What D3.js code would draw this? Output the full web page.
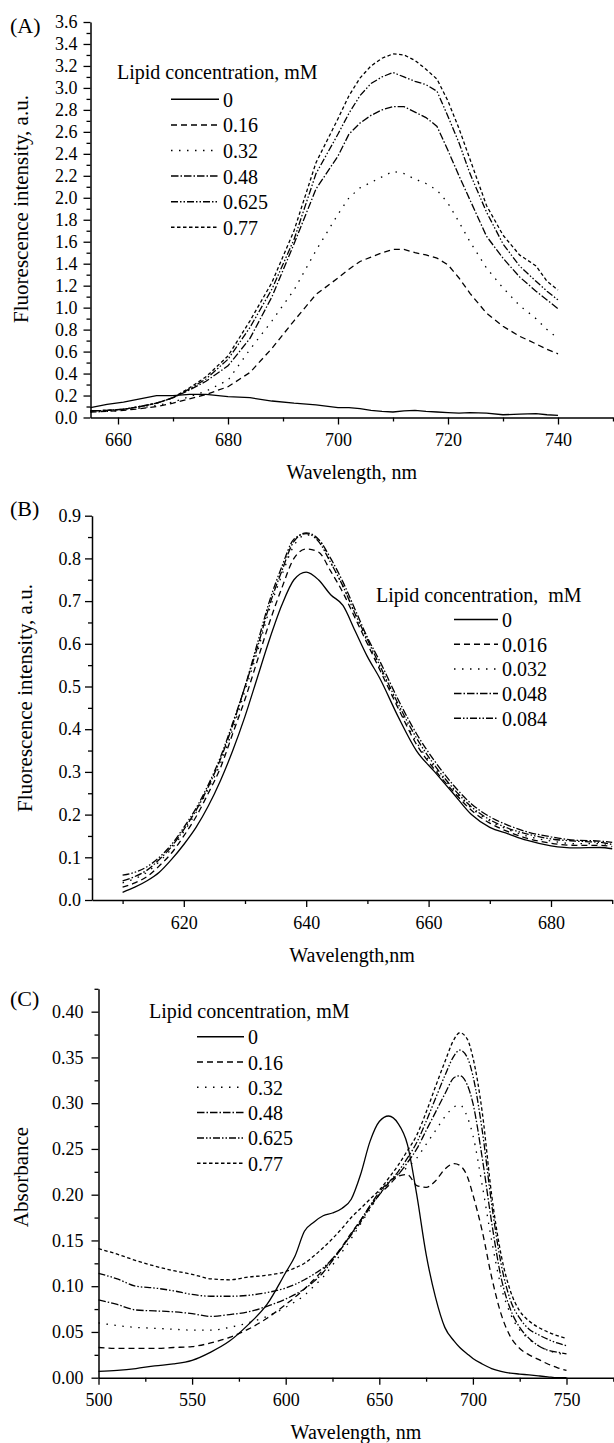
<!DOCTYPE html>
<html><head><meta charset="utf-8">
<script src="https://cdn.jsdelivr.net/npm/d3@7"></script>
<style>
body{margin:0;background:#fff}
svg text{font-family:"Liberation Serif","DejaVu Serif",serif !important;fill:#000}
</style>
</head><body>
<svg id="c" width="614" height="1443" xmlns="http://www.w3.org/2000/svg" font-family="Liberation Serif"></svg>
<script>
// ---------------- DATA ----------------
// Panel A: fluorescence, lipid concentration mM
const legendA = ["0", "0.16", "0.32", "0.48", "0.625", "0.77"];
const wlA = [655,658,661,664,667,670,673,676,680,684,688,692,696,700,702,704,706,708,710,712,714,716,718,720,722,724,727,730,733,736,738,740];
const A_0    = [0.09,0.12,0.14,0.17,0.2,0.2,0.21,0.21,0.19,0.18,0.15,0.13,0.115,0.09,0.09,0.08,0.065,0.055,0.05,0.06,0.065,0.055,0.05,0.045,0.04,0.045,0.04,0.025,0.03,0.035,0.025,0.02];
const A_016  = [0.05,0.055,0.065,0.08,0.1,0.13,0.17,0.21,0.28,0.41,0.63,0.88,1.12,1.27,1.35,1.42,1.46,1.5,1.53,1.53,1.5,1.48,1.45,1.39,1.27,1.13,0.95,0.83,0.74,0.67,0.62,0.58];
const A_032  = [0.05,0.055,0.065,0.085,0.11,0.14,0.19,0.24,0.34,0.62,0.88,1.16,1.52,1.85,2.0,2.09,2.14,2.19,2.24,2.22,2.17,2.13,2.07,1.95,1.78,1.6,1.36,1.18,1.02,0.9,0.8,0.72];
const A_048  = [0.06,0.065,0.075,0.1,0.13,0.18,0.25,0.33,0.47,0.72,1.1,1.58,2.08,2.38,2.58,2.68,2.75,2.8,2.83,2.83,2.78,2.73,2.65,2.43,2.2,1.98,1.65,1.45,1.28,1.15,1.07,0.99];
const A_0625 = [0.06,0.065,0.075,0.1,0.13,0.18,0.26,0.35,0.53,0.82,1.17,1.62,2.22,2.58,2.77,2.93,3.04,3.1,3.14,3.1,3.06,3.03,2.97,2.74,2.5,2.22,1.87,1.58,1.38,1.24,1.15,1.07];
const A_077  = [0.06,0.065,0.075,0.1,0.13,0.18,0.27,0.37,0.56,0.88,1.23,1.7,2.32,2.72,2.93,3.09,3.2,3.27,3.31,3.3,3.25,3.17,3.08,2.88,2.63,2.35,1.93,1.66,1.48,1.38,1.24,1.16];

// Panel B
const legendB = ["0", "0.016", "0.032", "0.048", "0.084"];
const wlB = [610,612,614,616,618,620,622,624,626,628,630,632,634,636,638,640,642,644,646,648,650,652,655,658,661,664,667,670,673,676,680,684,688,690];
const B_0     = [0.018,0.03,0.045,0.065,0.095,0.13,0.17,0.22,0.28,0.35,0.43,0.52,0.61,0.69,0.75,0.768,0.75,0.715,0.69,0.63,0.57,0.52,0.43,0.35,0.3,0.25,0.2,0.17,0.155,0.14,0.127,0.122,0.123,0.12];
const B_0016  = [0.03,0.04,0.055,0.08,0.11,0.15,0.195,0.25,0.31,0.39,0.47,0.56,0.65,0.73,0.8,0.822,0.815,0.77,0.72,0.66,0.6,0.54,0.45,0.365,0.305,0.255,0.21,0.18,0.16,0.145,0.133,0.128,0.128,0.125];
const B_0032  = [0.04,0.05,0.065,0.09,0.12,0.16,0.205,0.26,0.32,0.4,0.49,0.58,0.68,0.76,0.83,0.855,0.845,0.79,0.735,0.67,0.605,0.545,0.455,0.37,0.31,0.26,0.215,0.185,0.165,0.15,0.138,0.132,0.132,0.128];
const B_0048  = [0.045,0.055,0.07,0.095,0.125,0.165,0.21,0.265,0.33,0.41,0.5,0.59,0.69,0.77,0.84,0.86,0.845,0.8,0.745,0.68,0.615,0.56,0.47,0.39,0.325,0.27,0.225,0.195,0.175,0.16,0.148,0.14,0.138,0.135];
const B_0084  = [0.058,0.065,0.078,0.1,0.13,0.17,0.215,0.27,0.335,0.415,0.5,0.6,0.7,0.78,0.845,0.858,0.84,0.79,0.735,0.67,0.61,0.55,0.46,0.38,0.315,0.262,0.218,0.188,0.168,0.155,0.143,0.138,0.135,0.13];

// Panel C: absorbance
const legendC = ["0", "0.16", "0.32", "0.48", "0.625", "0.77"];
const wlC = [500,510,520,530,540,550,560,570,580,590,600,605,610,615,620,625,630,635,640,645,650,655,660,665,670,675,680,685,690,693,697,700,705,710,715,720,725,730,735,740,745,750];
const C_0    = [0.007,0.008,0.01,0.013,0.015,0.019,0.028,0.04,0.058,0.08,0.115,0.133,0.16,0.17,0.177,0.18,0.185,0.195,0.222,0.258,0.28,0.286,0.278,0.255,0.2,0.135,0.088,0.055,0.04,0.033,0.026,0.021,0.015,0.01,0.007,0.005,0.004,0.003,0.002,0.001,0,0];
const C_016  = [0.033,0.032,0.032,0.032,0.033,0.034,0.038,0.044,0.053,0.065,0.08,0.088,0.097,0.107,0.118,0.13,0.143,0.158,0.172,0.187,0.2,0.21,0.22,0.222,0.21,0.208,0.215,0.228,0.234,0.232,0.22,0.2,0.16,0.11,0.07,0.045,0.032,0.025,0.02,0.015,0.011,0.008];
const C_032  = [0.06,0.057,0.055,0.054,0.053,0.052,0.052,0.055,0.06,0.067,0.077,0.083,0.09,0.1,0.11,0.123,0.137,0.152,0.168,0.184,0.2,0.212,0.222,0.23,0.24,0.255,0.27,0.285,0.296,0.298,0.285,0.265,0.21,0.15,0.1,0.07,0.052,0.042,0.035,0.03,0.027,0.025];
const C_048  = [0.085,0.08,0.074,0.073,0.072,0.07,0.067,0.069,0.072,0.078,0.086,0.091,0.097,0.105,0.115,0.128,0.142,0.157,0.172,0.188,0.203,0.214,0.222,0.235,0.25,0.27,0.29,0.31,0.328,0.33,0.32,0.3,0.24,0.17,0.11,0.075,0.055,0.043,0.035,0.03,0.028,0.026];
const C_0625 = [0.114,0.108,0.1,0.098,0.095,0.091,0.089,0.089,0.09,0.093,0.098,0.102,0.107,0.113,0.12,0.13,0.142,0.156,0.17,0.186,0.2,0.213,0.225,0.24,0.257,0.28,0.305,0.33,0.352,0.358,0.35,0.33,0.27,0.19,0.125,0.085,0.065,0.053,0.047,0.042,0.038,0.035];
const C_077  = [0.141,0.135,0.128,0.122,0.117,0.113,0.108,0.107,0.11,0.112,0.116,0.12,0.125,0.133,0.142,0.152,0.163,0.175,0.185,0.195,0.205,0.218,0.232,0.248,0.265,0.29,0.318,0.345,0.37,0.377,0.37,0.35,0.29,0.2,0.135,0.095,0.073,0.062,0.055,0.05,0.046,0.043];

// tick values
const xMajorA = [660,680,700,720,740], xMinorA = [670,690,710,730,750];
const yMajorA = d3.range(0, 3.61, 0.2), yMinorA = d3.range(0.1, 3.6, 0.2);
const xMajorB = [620,640,660,680], xMinorB = [610,630,650,670,690];
const yMajorB = d3.range(0, 0.91, 0.1), yMinorB = d3.range(0.05, 0.9, 0.1);
const xMajorC = [500,550,600,650,700,750], xMinorC = [525,575,625,675,725,775];
const yMajorC = d3.range(0, 0.401, 0.05), yMinorC = d3.range(0.025, 0.43, 0.05);

// ---------------- STYLE ----------------
const FONT = "'Liberation Serif', 'DejaVu Serif', serif";
const dashes = ["none", "6,4", "1.5,6.5", "7.5,2,1.5,2", "7,2,1.5,2,1.5,2", "3.5,2.5"];
const dashesB = ["none", "6,4", "1.5,6.5", "7.5,2,1.5,2", "7,2,1.5,2,1.5,2"];

const svg = d3.select("#c");
svg.append("rect").attr("width",614).attr("height",1443).attr("fill","#fff");

function panel(cfg) {
  const g = svg.append("g");
  const x = d3.scaleLinear().domain(cfg.xDom).range(cfg.xRange);
  const y = d3.scaleLinear().domain(cfg.yDom).range(cfg.yRange);
  const y0 = cfg.yRange[0];
  const x0 = cfg.xRange[0];

  g.append("g").attr("transform", `translate(0,${y0})`)
    .call(d3.axisBottom(x).tickValues(cfg.xMinor).tickSize(4).tickFormat(""))
    .call(s => s.select(".domain").remove());
  g.append("g").attr("transform", `translate(${x0},0)`)
    .call(d3.axisLeft(y).tickValues(cfg.yMinor).tickSize(4).tickFormat(""))
    .call(s => s.select(".domain").remove());
  const xa = g.append("g").attr("transform", `translate(0,${y0})`)
    .call(d3.axisBottom(x).tickValues(cfg.xMajor).tickSize(7).tickSizeOuter(0).tickFormat(d3.format("d")));
  const ya = g.append("g").attr("transform", `translate(${x0},0)`)
    .call(d3.axisLeft(y).tickValues(cfg.yMajor).tickSize(7).tickSizeOuter(0).tickFormat(d3.format(cfg.yFmt)));
  g.selectAll("g").attr("font-family", FONT);
  g.selectAll(".tick line").attr("stroke","#000").attr("stroke-width",1.3);
  g.selectAll(".domain").attr("stroke","#000").attr("stroke-width",1.5);
  xa.selectAll("text").attr("y", 16).attr("font-size", 18);
  ya.selectAll("text").attr("x", -cfg.yLabGap).attr("font-size", 18);
  g.selectAll(".tick text").attr("fill","#000").style("font-family", FONT);

  const line = d3.line().x((d,i) => x(cfg.wl[i])).y(d => y(d)).curve(cfg.curve);
  cfg.series.forEach((s, i) => {
    g.append("path").attr("d", line(s)).attr("fill","none").attr("stroke","#000")
      .attr("stroke-width",1.3).attr("stroke-dasharray", cfg.dash[i]);
  });

  const T = (sel) => sel.style("font-family", FONT);
  const L = cfg.legend;
  T(g.append("text").attr("x", L.tx).attr("y", L.ty).attr("font-size", 20)
    .style("white-space","pre").text(L.title));
  cfg.names.forEach((n, i) => {
    const ly = L.y0 + i * L.dy;
    g.append("line").attr("x1", L.x1).attr("x2", L.x2).attr("y1", ly).attr("y2", ly)
      .attr("stroke","#000").attr("stroke-width",1.5).attr("stroke-dasharray", cfg.dash[i]);
    T(g.append("text").attr("x", L.x2 + 4).attr("y", ly + 7.5).attr("font-size", 20).text(n));
  });

  T(g.append("text").attr("x", (cfg.xRange[0] + cfg.xRange[1]) / 2).attr("y", y0 + 61.5)
    .attr("text-anchor","middle").attr("font-size", 20).text(cfg.xTitle));
  T(g.append("text").attr("transform", `translate(${cfg.yTitleX},${cfg.yTitleY}) rotate(-90)`)
    .attr("text-anchor","middle").attr("font-size", 21).text(cfg.yTitle));
  T(g.append("text").attr("x", 10).attr("y", cfg.labY).attr("font-size", 22).text(cfg.label));
}

panel({
  xDom:[655,750], xRange:[90.5,613], yDom:[0,3.6], yRange:[417.5,22],
  xMajor:xMajorA, xMinor:xMinorA, yMajor:yMajorA, yMinor:yMinorA, yFmt:".1f", yLabGap:13,
  wl: wlA, series:[A_0,A_016,A_032,A_048,A_0625,A_077], names: legendA, dash: dashes,
  curve: d3.curveLinear,
  legend:{title:"Lipid concentration, mM", tx:117, ty:78.5, x1:171, x2:219, y0:99.3, dy:25.6},
  xTitle:"Wavelength, nm", yTitle:"Fluorescence intensity, a.u.", yTitleX:28, yTitleY:209,
  label:"(A)", labY:33
});
panel({
  xDom:[605,690], xRange:[92,612.2], yDom:[0,0.9], yRange:[900,515.7],
  xMajor:xMajorB, xMinor:xMinorB, yMajor:yMajorB, yMinor:yMinorB, yFmt:".1f", yLabGap:11,
  wl: wlB, series:[B_0,B_0016,B_0032,B_0048,B_0084], names: legendB, dash: dashesB,
  curve: d3.curveMonotoneX,
  legend:{title:"Lipid concentration,  mM", tx:376, ty:601.5, x1:454, x2:498, y0:619.5, dy:24.7},
  xTitle:"Wavelength,nm", yTitle:"Fluorescence intensity, a.u.", yTitleX:32, yTitleY:698,
  label:"(B)", labY:516
});
panel({
  xDom:[500,775], xRange:[98.5,613.3], yDom:[0,0.425], yRange:[1377.7,988.8],
  xMajor:xMajorC, xMinor:xMinorC, yMajor:yMajorC, yMinor:yMinorC, yFmt:".2f", yLabGap:15,
  wl: wlC, series:[C_0,C_016,C_032,C_048,C_0625,C_077], names: legendC, dash: dashes,
  curve: d3.curveMonotoneX,
  legend:{title:"Lipid concentration, mM", tx:149, ty:1018.3, x1:197, x2:244, y0:1036.7, dy:25.3},
  xTitle:"Wavelength, nm", yTitle:"Absorbance", yTitleX:28, yTitleY:1177,
  label:"(C)", labY:1006
});
</script>
</body></html>
